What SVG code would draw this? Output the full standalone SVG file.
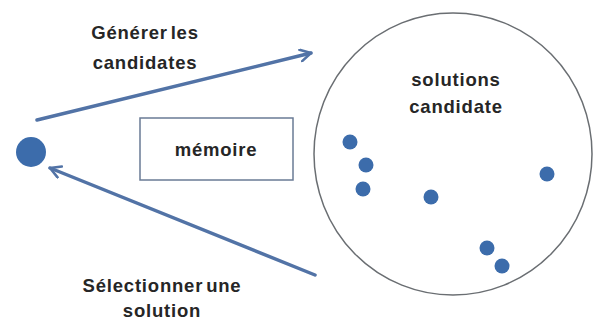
<svg xmlns="http://www.w3.org/2000/svg" width="593" height="321" viewBox="0 0 593 321">
<defs>
<style>
.lbl{font-family:"Liberation Sans",Arial,sans-serif;font-size:18.5px;font-weight:bold;fill:#262626;text-anchor:middle;letter-spacing:0.8px;word-spacing:-3px}
.dot{fill:#3c6cab}
.conn{stroke:#5273a6;stroke-width:3.5;fill:none;stroke-linecap:round}
</style>
<marker id="ah" viewBox="0 0 12 12" refX="10" refY="6" markerWidth="4" markerHeight="4" orient="auto" markerUnits="strokeWidth">
<path d="M1,1 L10,6 L1,11" fill="none" stroke="#5273a6" stroke-width="2.2" stroke-linecap="round" stroke-linejoin="round"/>
</marker>
</defs>
<rect width="593" height="321" fill="#ffffff"/>
<g id="source">
<circle cx="31" cy="152" r="15" class="dot"/>
</g>
<g id="memoire">
<rect x="140" y="118" width="153" height="62" fill="#ffffff" stroke="#6a7b95" stroke-width="1.5"/>
<text x="216" y="156" class="lbl">mémoire</text>
</g>
<g id="solutions">
<ellipse cx="453" cy="154" rx="139" ry="141" fill="#ffffff" stroke="#6a6e72" stroke-width="1.5"/>
<text x="456" y="86" class="lbl">solutions</text>
<text x="456" y="113" class="lbl">candidate</text>
<circle cx="350" cy="142" r="7.5" class="dot"/>
<circle cx="366" cy="165" r="7.5" class="dot"/>
<circle cx="363" cy="189" r="7.5" class="dot"/>
<circle cx="431" cy="197" r="7.5" class="dot"/>
<circle cx="547" cy="174" r="7.5" class="dot"/>
<circle cx="487" cy="248" r="7.5" class="dot"/>
<circle cx="502" cy="266" r="7.5" class="dot"/>
</g>
<g id="connectors">
<line x1="37" y1="120" x2="311" y2="53" class="conn" marker-end="url(#ah)"/>
<line x1="315" y1="275" x2="50" y2="168" class="conn" marker-end="url(#ah)"/>
</g>
<g id="labels">
<text x="145" y="39" class="lbl">Générer les</text>
<text x="145" y="69" class="lbl">candidates</text>
<text x="162" y="292" class="lbl">Sélectionner une</text>
<text x="162" y="317" class="lbl">solution</text>
</g>
</svg>
